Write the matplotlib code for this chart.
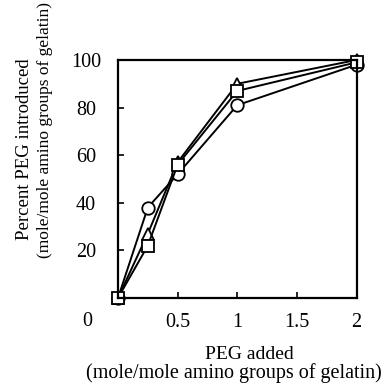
import matplotlib
matplotlib.use("Agg")
import matplotlib.pyplot as plt

plt.rcParams['font.family'] = ['Liberation Serif', 'DejaVu Serif']

# PEG added (mole/mole amino groups of gelatin)
peg_added = [0, 0.25, 0.5, 1, 2]

# percent PEG introduced, three series
pct_triangle = [0, 27, 57, 90, 100]
pct_circle = [0, 38, 52, 81, 98]
pct_square = [0, 22, 56, 87, 99]

x_ticks = [0.5, 1, 1.5, 2]
x_tick_labels = ['0.5', '1', '1.5', '2']
y_ticks = [20, 40, 60, 80, 100]

fig = plt.figure(figsize=(3.89, 3.90), dpi=100)
ax = fig.add_axes([0.3033, 0.2359, 0.6132, 0.6103])

style = dict(color='black', lw=1.4, mfc='white', mec='black', mew=1.3, clip_on=False)
ax.plot(peg_added, pct_triangle, marker='^', ms=9, **style)
ax.plot(peg_added, pct_circle, marker='o', ms=9, **style)
ax.plot(peg_added, pct_square, marker='s', ms=9, **style)

ax.set_xlim(0, 2)
ax.set_ylim(0, 100)
ax.set_xticks(x_ticks)
ax.set_xticklabels(x_tick_labels)
ax.set_yticks(y_ticks)
ax.tick_params(direction='in', length=4, width=1.2, labelsize=14.5)
ax.tick_params(axis='x', pad=10.5)
ax.tick_params(axis='y', pad=23)
for lab in ax.get_yticklabels():
    lab.set_ha('center')
for s in ax.spines.values():
    s.set_linewidth(1.6)

# shared origin label sits below-left of the corner
ax.annotate('0', xy=(0, 0), xytext=(-22, -17), textcoords='offset points',
            ha='center', va='center', fontsize=14.5)

fig.text(0.640, 0.090, 'PEG added', ha='center', va='center', fontsize=14)
fig.text(0.602, 0.044, '(mole/mole amino groups of gelatin)', ha='center',
         va='center', fontsize=14.5)
fig.text(0.064, 0.618, 'Percent PEG introduced', ha='center', va='center',
         rotation=90, fontsize=13.5)
fig.text(0.116, 0.667, '(mole/mole amino groups of gelatin)', ha='center',
         va='center', rotation=90, fontsize=12.5)

fig.savefig('out.png', dpi=100)
